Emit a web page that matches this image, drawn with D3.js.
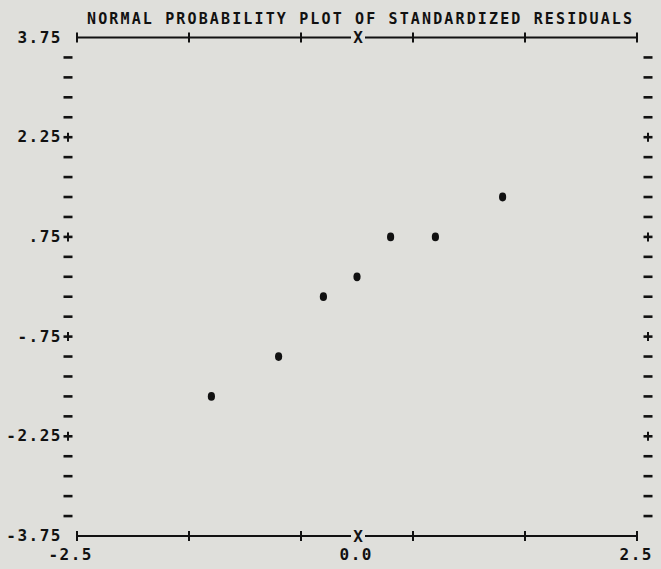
<!DOCTYPE html>
<html><head><meta charset="utf-8">
<script src="https://cdn.jsdelivr.net/npm/d3@7"></script>
<style>
html,body{margin:0;padding:0;background:#dfdfdb;}
svg{display:block;}
text{font-family:"DejaVu Sans Mono",monospace;fill:#111;font-weight:bold;}
</style></head>
<body>
<svg id="c" width="661" height="569"></svg>
<script>
const title = "NORMAL PROBABILITY PLOT OF STANDARDIZED RESIDUALS";
const normalScores = [-1.3, -0.7, -0.3, 0.0, 0.3, 0.7, 1.3];
const residuals    = [-1.65, -1.05, -0.15, 0.15, 0.75, 0.75, 1.35];
const yTickValues  = [3.75, 2.25, 0.75, -0.75, -2.25, -3.75];
const yTickLabels  = ["3.75", "2.25", ".75", "-.75", "-2.25", "-3.75"];
const xTickValues  = [-2.5, 0.0, 2.5];
const xTickLabels  = ["-2.5", "0.0", "2.5"];
const xPlusTicks   = [-2.5, -1.5, -0.5, 0.5, 1.5, 2.5];
const yRowStep = 0.3;

const svg = d3.select("#c");
const x = d3.scaleLinear().domain([-2.5, 2.5]).range([77, 637]);
const y = d3.scaleLinear().domain([-3.75, 3.75]).range([536, 37.5]);
const ink = "#111";

// title
svg.append("text").attr("x", 87).attr("y", 24).attr("text-anchor", "start")
  .attr("font-size", 15).attr("textLength", 545).attr("lengthAdjust", "spacing").text(title);

// top & bottom axis lines with X at zero
[3.75, -3.75].forEach(v => {
  const yy = y(v);
  svg.append("line").attr("x1", x(-2.5)).attr("x2", x(0) - 6).attr("y1", yy).attr("y2", yy)
    .attr("stroke", ink).attr("stroke-width", 2);
  svg.append("line").attr("x1", x(0) + 8).attr("x2", x(2.5)).attr("y1", yy).attr("y2", yy)
    .attr("stroke", ink).attr("stroke-width", 2);
  svg.selectAll(null).data(xPlusTicks).enter().append("line")
    .attr("x1", d => x(d)).attr("x2", d => x(d)).attr("y1", yy - 5).attr("y2", yy + 5)
    .attr("stroke", ink).attr("stroke-width", 2);
  svg.append("text").attr("x", x(0) + 1).attr("y", yy + 5.5).attr("text-anchor", "middle")
    .attr("font-size", 16).text("X");
});

// row markers on left and right
const rows = d3.range(1, 25).map(k => 3.75 - k * yRowStep);
const isMajor = v => yTickValues.some(t => Math.abs(t - v) < 1e-6);
[68, 648].forEach(cx => {
  svg.selectAll(null).data(rows).enter().append("line")
    .attr("x1", cx - 4.5).attr("x2", cx + 4.5).attr("y1", d => y(d)).attr("y2", d => y(d))
    .attr("stroke", ink).attr("stroke-width", 2.6);
  svg.selectAll(null).data(rows.filter(isMajor)).enter().append("line")
    .attr("x1", cx).attr("x2", cx).attr("y1", d => y(d) - 4.5).attr("y2", d => y(d) + 4.5)
    .attr("stroke", ink).attr("stroke-width", 2);
});

// y labels
svg.selectAll(null).data(yTickValues).enter().append("text")
  .attr("x", 62).attr("y", d => y(d) + 5).attr("text-anchor", "end")
  .attr("font-size", 16).attr("letter-spacing", 1.5)
  .text((d, i) => yTickLabels[i]);

// x labels
svg.selectAll(null).data(xTickValues).enter().append("text")
  .attr("x", d => x(d) + 16).attr("y", 560).attr("text-anchor", "end")
  .attr("font-size", 16).attr("letter-spacing", 1.5)
  .text((d, i) => xTickLabels[i]);

// points
svg.selectAll(null).data(normalScores).enter().append("ellipse")
  .attr("cx", d => x(d)).attr("cy", (d, i) => y(residuals[i]))
  .attr("rx", 3.6).attr("ry", 4.4).attr("fill", ink);
</script>
</body></html>
